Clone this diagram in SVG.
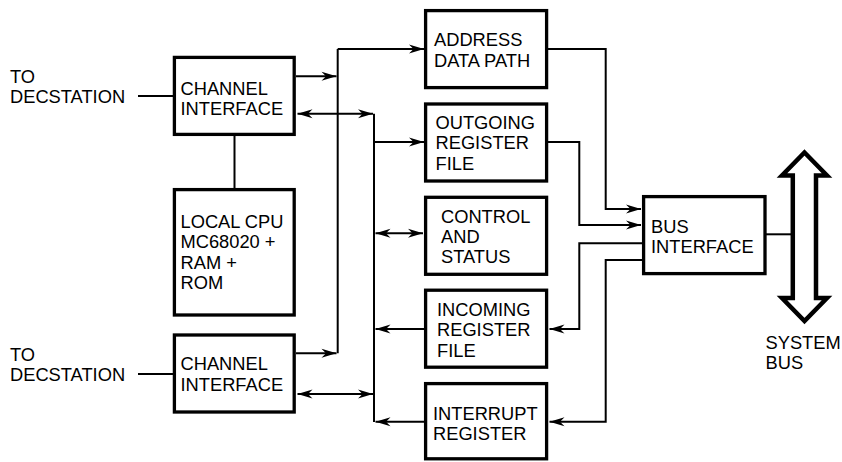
<svg xmlns="http://www.w3.org/2000/svg" width="842" height="462" viewBox="0 0 842 462">
<style>
  .box { fill: #fff; stroke: #000; stroke-width: 3.3; }
  .lbl { font-family: "Liberation Sans", Arial, sans-serif; font-size: 18.3px; fill: #000; }
  .ln { fill: none; stroke: #000; stroke-width: 2; }
  .arr { marker-end: url(#ah); }
  .bi { marker-start: url(#ah); marker-end: url(#ah); }
</style>
<defs>
  <marker id="ah" viewBox="-16 -6 17 12" markerWidth="17" markerHeight="12" refX="0" refY="0" markerUnits="userSpaceOnUse" orient="auto-start-reverse">
    <path d="M0,0 L-15,-4.5 L-10.5,0 L-15,4.5 Z" fill="#000"/>
  </marker>
</defs>
<rect width="842" height="462" fill="#fff"/>

<g id="connectors">
  <line class="ln" x1="138" y1="96" x2="174" y2="96"/>
  <line class="ln" x1="138" y1="374" x2="174" y2="374"/>
  <line class="ln" x1="234.5" y1="136" x2="234.5" y2="189"/>
  <polyline class="ln" points="337.7,353.3 337.7,49"/>
  <line class="ln arr" x1="296" y1="76.3" x2="336.5" y2="76.3"/>
  <line class="ln arr" x1="296" y1="353.3" x2="336.5" y2="353.3"/>
  <line class="ln arr" x1="337.7" y1="49" x2="424" y2="49"/>
  <line class="ln" x1="374" y1="113.7" x2="374" y2="422"/>
  <line class="ln bi" x1="297.5" y1="113.7" x2="373" y2="113.7"/>
  <line class="ln bi" x1="297.5" y1="394" x2="373" y2="394"/>
  <line class="ln arr" x1="374" y1="142" x2="424" y2="142"/>
  <line class="ln bi" x1="375.5" y1="233.3" x2="423" y2="233.3"/>
  <line class="ln arr" x1="424" y1="329" x2="375.5" y2="329"/>
  <line class="ln arr" x1="424" y1="421.7" x2="375.5" y2="421.7"/>
  <polyline class="ln arr" points="548,49 605.7,49 605.7,209 641,209"/>
  <polyline class="ln arr" points="548,142 579.3,142 579.3,225 641,225"/>
  <polyline class="ln arr" points="642,243.3 579.3,243.3 579.3,329 549.5,329"/>
  <polyline class="ln arr" points="642,260 605.7,260 605.7,421.7 549.5,421.7"/>
  <line class="ln" x1="766" y1="234.3" x2="792" y2="234.3"/>
</g>

<g id="to-decstation-1">
  <text class="lbl" x="10" y="82.7">TO</text>
  <text class="lbl" x="10" y="103.3">DECSTATION</text>
</g>
<g id="to-decstation-2">
  <text class="lbl" x="10" y="360.7">TO</text>
  <text class="lbl" x="10" y="381">DECSTATION</text>
</g>

<g id="channel-interface-1">
  <rect class="box" x="174.4" y="57.4" width="119.8" height="77"/>
  <text class="lbl" x="180.5" y="95">CHANNEL</text>
  <text class="lbl" x="180.5" y="114.5">INTERFACE</text>
</g>
<g id="local-cpu">
  <rect class="box" x="174.4" y="189.6" width="119.8" height="125.4"/>
  <text class="lbl" x="180.5" y="227.7">LOCAL CPU</text>
  <text class="lbl" x="180.5" y="248.3">MC68020 +</text>
  <text class="lbl" x="180.5" y="268.6">RAM +</text>
  <text class="lbl" x="180.5" y="289">ROM</text>
</g>
<g id="channel-interface-2">
  <rect class="box" x="174.4" y="335" width="119.8" height="77"/>
  <text class="lbl" x="180.5" y="370.3">CHANNEL</text>
  <text class="lbl" x="180.5" y="390.7">INTERFACE</text>
</g>

<g id="address-data-path">
  <rect class="box" x="425.6" y="10.6" width="121" height="77"/>
  <text class="lbl" x="434" y="45.8">ADDRESS</text>
  <text class="lbl" x="434" y="66.5">DATA PATH</text>
</g>
<g id="outgoing-register-file">
  <rect class="box" x="425.6" y="104" width="121" height="77"/>
  <text class="lbl" x="435.5" y="129.2">OUTGOING</text>
  <text class="lbl" x="435.5" y="149.4">REGISTER</text>
  <text class="lbl" x="435.5" y="169.5">FILE</text>
</g>
<g id="control-and-status">
  <rect class="box" x="425.6" y="197.3" width="121" height="77"/>
  <text class="lbl" x="441" y="222.7">CONTROL</text>
  <text class="lbl" x="441" y="243">AND</text>
  <text class="lbl" x="441" y="263.3">STATUS</text>
</g>
<g id="incoming-register-file">
  <rect class="box" x="425.6" y="290.2" width="121" height="77"/>
  <text class="lbl" x="437" y="316">INCOMING</text>
  <text class="lbl" x="437" y="336.3">REGISTER</text>
  <text class="lbl" x="437" y="356.6">FILE</text>
</g>
<g id="interrupt-register">
  <rect class="box" x="425.6" y="383.6" width="121" height="75.2"/>
  <text class="lbl" x="433" y="420">INTERRUPT</text>
  <text class="lbl" x="433" y="439.5">REGISTER</text>
</g>

<g id="bus-interface">
  <rect class="box" x="643.6" y="196.6" width="121.4" height="77"/>
  <text class="lbl" x="651" y="232.7">BUS</text>
  <text class="lbl" x="651" y="252.8">INTERFACE</text>
</g>

<g id="system-bus">
  <polygon points="804.5,152.5 827,175.5 816,175.5 816,298 827,298 804.5,321 782,298 792.8,298 792.8,175.5 782,175.5" fill="#fff" stroke="#000" stroke-width="4.5" stroke-linejoin="miter"/>
  <text class="lbl" x="765.5" y="349.3">SYSTEM</text>
  <text class="lbl" x="765.5" y="368.5">BUS</text>
</g>
</svg>
